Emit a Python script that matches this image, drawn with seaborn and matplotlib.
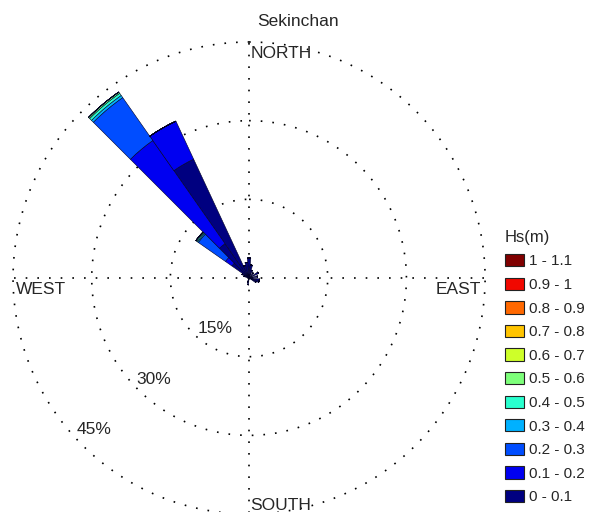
import numpy as np
import pandas as pd
import matplotlib
matplotlib.use("Agg")
import matplotlib.pyplot as plt
import seaborn as sns

# wave direction (deg, clockwise from north) and frequency (%) per Hs class
directions = [0, 10, 20, 40, 60, 80, 100, 110, 120, 190, 200, 290, 300, 310, 320, 330, 340, 350]
freq_00_01 = [3.8, 2.5, 1.5, 1.2, 2.0, 1.6, 2.0, 2.0, 1.5, 1.3, 0.8, 1.0, 1.5, 4.0, 8.0, 25.0, 2.5, 3.0]
freq_01_02 = [0, 0, 0, 0, 0, 0, 0, 0, 0, 0, 0, 0, 0, 1.5, 24.0, 8.0, 0, 0]
freq_02_03 = [0, 0, 0, 0, 0, 0, 0, 0, 0, 0, 0, 0, 0, 6.3, 10.0, 0, 0, 0]
freq_03_04 = [0, 0, 0, 0, 0, 0, 0, 0, 0, 0, 0, 0, 0, 0.2, 0.5, 0, 0, 0]
freq_04_05 = [0, 0, 0, 0, 0, 0, 0, 0, 0, 0, 0, 0, 0, 0.2, 0.5, 0, 0, 0]
freq_05_06 = [0, 0, 0, 0, 0, 0, 0, 0, 0, 0, 0, 0, 0, 0.2, 0.3, 0, 0, 0]

hs_classes = ["0 - 0.1", "0.1 - 0.2", "0.2 - 0.3", "0.3 - 0.4", "0.4 - 0.5", "0.5 - 0.6",
              "0.6 - 0.7", "0.7 - 0.8", "0.8 - 0.9", "0.9 - 1", "1 - 1.1"]
ring_levels = [15, 30, 45]

df = pd.DataFrame(0.0, index=directions, columns=hs_classes)
for name, vals in zip(hs_classes, [freq_00_01, freq_01_02, freq_02_03, freq_03_04, freq_04_05, freq_05_06]):
    df[name] = vals

sns.set_theme(style="white")
plt.rcParams["font.family"] = ["Liberation Sans", "DejaVu Sans"]
plt.rcParams["font.size"] = 12.5

colors = plt.cm.jet(np.linspace(0, 1, len(hs_classes)))

fig = plt.figure(figsize=(6.06, 5.12), dpi=100)
ax = fig.add_axes([0.0215, -0.004, 0.779, 0.922], projection="polar")
ax.set_theta_zero_location("N")
ax.set_theta_direction(-1)

theta = np.deg2rad(df.index.values)
width = np.deg2rad(10)
bottom = np.zeros(len(df))
for name, col in zip(hs_classes, colors):
    ax.bar(theta, df[name].values, width=width, bottom=bottom, color=col,
           edgecolor="#000022", linewidth=0.4, label=name, align="center")
    bottom += df[name].values

ax.set_ylim(0, 45)
ax.set_rgrids(ring_levels, labels=[""] * len(ring_levels))
ax.set_thetagrids([0, 90, 180, 270], labels=[""] * 4)
ax.grid(True, color="black", linestyle=(0, (1, 6)), linewidth=1.2)
for gl in ax.yaxis.get_gridlines() + ax.xaxis.get_gridlines():
    gl.set_clip_on(False)
ax.spines["polar"].set_visible(False)
ax.set_facecolor("white")

# percent labels along the rings
for r in ring_levels:
    ax.annotate(f"{r}%", xy=(np.deg2rad(230), r), xytext=(6, 0), textcoords="offset points",
                ha="left", va="center")

ax.annotate("NORTH", xy=(0, 45), xytext=(1, -3), textcoords="offset points", ha="left", va="top")
ax.annotate("SOUTH", xy=(np.pi, 45), xytext=(1, 1), textcoords="offset points", ha="left", va="bottom")
ax.annotate("WEST", xy=(1.5 * np.pi, 45), xytext=(2, -3), textcoords="offset points", ha="left", va="top")
ax.annotate("EAST", xy=(0.5 * np.pi, 45), xytext=(-3, -3), textcoords="offset points", ha="right", va="top")

fig.text(257 / 606, 1 - 22 / 512, "Sekinchan", ha="left", va="center")

handles, labels = ax.get_legend_handles_labels()
leg = fig.legend(handles[::-1], labels[::-1], loc="upper left", bbox_to_anchor=(0.833, 0.551),
                 frameon=False, title="Hs(m)", alignment="left",
                 handlelength=1.26, handleheight=0.86, labelspacing=0.6,
                 handletextpad=0.35, borderpad=0, borderaxespad=0)
for h in leg.legend_handles:
    h.set_edgecolor("#222222")
    h.set_linewidth(0.8)

fig.savefig("out.png", dpi=100, facecolor="white")
